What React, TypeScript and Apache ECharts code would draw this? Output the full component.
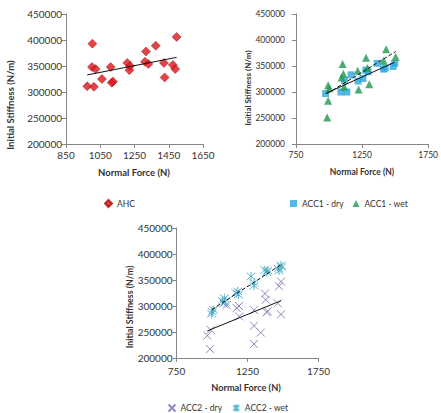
import React, { useEffect, useRef } from "react";
import * as echarts from "echarts";

// AHC: normal force (N) against initial stiffness (N/m)
const ahcForce = [974, 1013, 1004, 1002, 1023, 1060, 1111, 1117, 1124, 1208, 1220, 1224, 1311, 1317, 1331, 1374, 1422, 1426, 1474, 1488, 1496];
const ahcStiffness = [311000, 310000, 393000, 348000, 344000, 325000, 348000, 318000, 320000, 356000, 342000, 350000, 358000, 378000, 354000, 389000, 356000, 328000, 352000, 344000, 406000];

// ACC1, dry and wet
const acc1DryForce = [974, 1090, 1135, 1117, 1167, 1220, 1256, 1278, 1295, 1365, 1413, 1425, 1485, 1497];
const acc1DryStiffness = [297000, 300000, 300000, 322000, 333000, 321000, 326000, 342000, 339000, 355000, 344000, 346000, 349000, 355000];
const acc1WetForce = [986, 993, 993, 1003, 1095, 1103, 1108, 1115, 1217, 1224, 1280, 1290, 1305, 1413, 1432, 1504];
const acc1WetStiffness = [251000, 283000, 313000, 307000, 328000, 354000, 335000, 310000, 341000, 305000, 366000, 346000, 315000, 360000, 382000, 368000];

// ACC2, dry and wet
const acc2DryForce = [986, 967, 991, 1103, 1080, 1174, 1192, 1190, 1296, 1296, 1343, 1296, 1373, 1378, 1392, 1385, 1463, 1472, 1486, 1486];
const acc2DryStiffness = [217000, 243000, 254000, 302000, 305000, 296000, 280000, 300000, 292000, 262000, 249000, 227000, 324000, 312000, 290000, 288000, 305000, 338000, 347000, 284000];
const acc2WetForce = [1002, 998, 1009, 1087, 1092, 1075, 1181, 1186, 1169, 1275, 1296, 1296, 1373, 1392, 1385, 1467, 1486, 1472, 1491];
const acc2WetStiffness = [289000, 285000, 293000, 315000, 308000, 310000, 328000, 322000, 325000, 357000, 344000, 339000, 369000, 368000, 365000, 372000, 378000, 368000, 375000];

// Axis ranges and tick values
const stiffnessMin = 200000;
const stiffnessMax = 450000;
const stiffnessStep = 50000;
const ahcForceTicks = [850, 1050, 1250, 1450, 1650];
const accForceTicks = [750, 1250, 1750];

const FONT = "Lato";
const AXIS_GREY = "#868686";
const TEXT = "#333333";

const zip = (xs: number[], ys: number[]) => xs.map((x, i) => [x, ys[i]]);
const plain = (v: number) => String(v);

// Least-squares linear trendline spanning the series' force range
function fitLine(xs: number[], ys: number[]): number[][] {
  const n = xs.length;
  const mx = xs.reduce((a, b) => a + b, 0) / n;
  const my = ys.reduce((a, b) => a + b, 0) / n;
  let sxy = 0;
  let sxx = 0;
  for (let i = 0; i < n; i++) {
    sxy += (xs[i] - mx) * (ys[i] - my);
    sxx += (xs[i] - mx) * (xs[i] - mx);
  }
  const slope = sxy / sxx;
  const x0 = Math.min(...xs);
  const x1 = Math.max(...xs);
  return [
    [x0, my + slope * (x0 - mx)],
    [x1, my + slope * (x1 - mx)],
  ];
}

const CROSS = "path://M0,0L10,10M10,0L0,10";
const STAR = "path://M5,0L5,10M1,1L9,9M9,1L1,9";

function xAxisFor(grid: number, ticks: number[], fontSize: number, margin: number) {
  return {
    type: "value",
    gridIndex: grid,
    min: ticks[0],
    max: ticks[ticks.length - 1],
    axisLine: { show: true, onZero: false, lineStyle: { color: AXIS_GREY, width: 1 } },
    axisTick: { show: true, length: 4, customValues: ticks, lineStyle: { color: AXIS_GREY } },
    axisLabel: { customValues: ticks, formatter: plain, fontSize, color: TEXT, fontFamily: FONT, margin },
    splitLine: { show: false },
  };
}

function yAxisFor(grid: number, fontSize: number, margin: number) {
  return {
    type: "value",
    gridIndex: grid,
    min: stiffnessMin,
    max: stiffnessMax,
    interval: stiffnessStep,
    axisLine: { show: true, lineStyle: { color: AXIS_GREY, width: 1 } },
    axisTick: { show: true, length: 4, lineStyle: { color: AXIS_GREY } },
    axisLabel: { formatter: plain, fontSize, color: TEXT, fontFamily: FONT, margin },
    splitLine: { show: false },
  };
}

function trendSeries(name: string, idx: number, pts: number[][], dashed: boolean) {
  return {
    name,
    type: "line",
    xAxisIndex: idx,
    yAxisIndex: idx,
    data: pts,
    symbol: "none",
    silent: true,
    z: 5,
    lineStyle: { color: "#111111", width: 1, type: dashed ? [4, 2] : "solid" },
  };
}

function title(text: string, x: number, y: number, size: number, vertical = false) {
  return {
    type: "text",
    x,
    y,
    rotation: vertical ? Math.PI / 2 : 0,
    style: {
      text,
      fontFamily: FONT,
      fontWeight: "bold",
      fontSize: size,
      fill: TEXT,
      align: "center",
      verticalAlign: "middle",
    },
  };
}

export default function App() {
  const ref = useRef<HTMLDivElement>(null);

  useEffect(() => {
    if (!ref.current) return;
    const chart = echarts.init(ref.current, undefined, { renderer: "svg" });

    const option = {
      animation: false,
      backgroundColor: "#ffffff",
      textStyle: { fontFamily: FONT },
      grid: [
        { left: 66, top: 14, width: 137, height: 130 },
        { left: 296, top: 14, width: 137, height: 130 },
        { left: 176.5, top: 228, width: 142, height: 130 },
      ],
      xAxis: [
        xAxisFor(0, ahcForceTicks, 10, 6),
        xAxisFor(1, accForceTicks, 8.5, 6),
        xAxisFor(2, accForceTicks, 10, 8),
      ],
      yAxis: [yAxisFor(0, 10, 4), yAxisFor(1, 8.5, 11), yAxisFor(2, 10, 4)],
      legend: [
        {
          data: ["AHC"],
          left: 99,
          top: 194,
          itemWidth: 7,
          itemHeight: 7,
          textStyle: { fontSize: 8.5, color: TEXT, fontFamily: FONT },
        },
        {
          data: ["ACC1 - dry", "ACC1 - wet"],
          left: 285,
          top: 194,
          itemWidth: 7,
          itemHeight: 7,
          itemGap: 9,
          textStyle: { fontSize: 8.5, color: TEXT, fontFamily: FONT },
        },
        {
          data: ["ACC2 - dry", "ACC2 - wet"],
          left: 161,
          top: 402,
          itemWidth: 7,
          itemHeight: 7,
          itemGap: 9,
          padding: [0, 5, 0, 5],
          textStyle: { fontSize: 8.5, color: TEXT, fontFamily: FONT },
        },
      ],
      graphic: [
        title("Normal Force (N)", 134, 172, 9.5),
        title("Initial Stiffness (N/m)", 10, 105, 9.5, true),
        title("Normal Force (N)", 362, 172, 8.5),
        title("Initial Stiffness (N/m)", 248, 88, 8, true),
        title("Normal Force (N)", 246, 387, 9.2),
        title("Initial Stiffness (N/m)", 129, 307, 8.8, true),
      ],
      series: [
        {
          name: "AHC",
          type: "scatter",
          xAxisIndex: 0,
          yAxisIndex: 0,
          data: zip(ahcForce, ahcStiffness),
          symbol: "diamond",
          symbolSize: 9,
          itemStyle: { color: "#d8161b", borderColor: "#a80d10", borderWidth: 0.6 },
        },
        trendSeries("AHC trend", 0, fitLine(ahcForce, ahcStiffness), false),
        {
          name: "ACC1 - dry",
          type: "scatter",
          xAxisIndex: 1,
          yAxisIndex: 1,
          data: zip(acc1DryForce, acc1DryStiffness),
          symbol: "rect",
          symbolSize: 7,
          itemStyle: { color: "#2ea6de" },
        },
        {
          name: "ACC1 - wet",
          type: "scatter",
          xAxisIndex: 1,
          yAxisIndex: 1,
          data: zip(acc1WetForce, acc1WetStiffness),
          symbol: "triangle",
          symbolSize: 8,
          itemStyle: { color: "#21994c" },
        },
        trendSeries("ACC1 - dry trend", 1, fitLine(acc1DryForce, acc1DryStiffness), false),
        trendSeries("ACC1 - wet trend", 1, fitLine(acc1WetForce, acc1WetStiffness), true),
        {
          name: "ACC2 - dry",
          type: "scatter",
          xAxisIndex: 2,
          yAxisIndex: 2,
          data: zip(acc2DryForce, acc2DryStiffness),
          symbol: CROSS,
          symbolSize: 8,
          itemStyle: { color: "none", borderColor: "#7b68b0", borderWidth: 1 },
        },
        {
          name: "ACC2 - wet",
          type: "scatter",
          xAxisIndex: 2,
          yAxisIndex: 2,
          data: zip(acc2WetForce, acc2WetStiffness),
          symbol: STAR,
          symbolSize: 9,
          itemStyle: { color: "none", borderColor: "#3fa9c4", borderWidth: 1 },
        },
        trendSeries("ACC2 - dry trend", 2, fitLine(acc2DryForce, acc2DryStiffness), false),
        trendSeries("ACC2 - wet trend", 2, fitLine(acc2WetForce, acc2WetStiffness), true),
      ],
    };

    chart.setOption(option as any);
    return () => chart.dispose();
  }, []);

  return (
    <div
      ref={ref}
      style={{ position: "absolute", left: 0, top: 0, width: 441, height: 413 }}
    />
  );
}
